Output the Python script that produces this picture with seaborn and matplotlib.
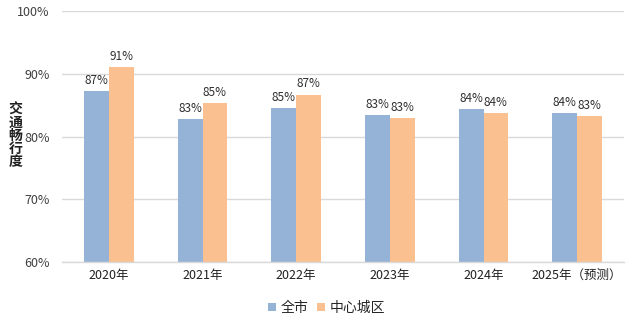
import matplotlib
matplotlib.use("Agg")
import matplotlib.pyplot as plt
import seaborn as sns
import pandas as pd

# Traffic smoothness index by year, city-wide vs. central urban area
years = ["2020年", "2021年", "2022年", "2023年", "2024年", "2025年（预测）"]
citywide = [87.2, 82.8, 84.6, 83.4, 84.4, 83.8]
central = [91.0, 85.4, 86.7, 83.0, 83.8, 83.3]
series_names = ["全市", "中心城区"]
y_ticks = [60, 70, 80, 90, 100]

sns.set_theme(style="white")
plt.rcParams["font.family"] = ["Noto Sans CJK SC", "DejaVu Sans"]

df = pd.DataFrame({
    "year": years * 2,
    "value": citywide + central,
    "series": [series_names[0]] * len(years) + [series_names[1]] * len(years),
})

fig = plt.figure(figsize=(6.4, 3.3), dpi=100)
ax = fig.add_axes([0.097, 0.205, 0.878, 0.762])

palette = {series_names[0]: "#95B3D7", series_names[1]: "#FAC090"}
sns.barplot(data=df, x="year", y="value", hue="series", palette=palette,
            width=0.53, saturation=1, linewidth=0, ax=ax, legend=True)

ax.set_ylim(60, 100)
ax.set_yticks(y_ticks)
ax.set_yticklabels([f"{t}%" for t in y_ticks], fontsize=9, color="#404040")
ax.tick_params(axis="x", labelsize=9, labelcolor="#202020", length=0, pad=5)
ax.tick_params(axis="y", length=0, pad=9)
ax.set_xlabel("")
ax.set_ylabel("")
ax.yaxis.grid(True, color="#D9D9D9", linewidth=1)
ax.set_axisbelow(True)
for side in ["left", "right", "top"]:
    ax.spines[side].set_visible(False)
ax.spines["bottom"].set_color("#D9D9D9")
ax.spines["bottom"].set_linewidth(1)

for container in ax.containers:
    ax.bar_label(container, fmt="{:.0f}%", padding=3, fontsize=8.5, color="#303030")

# Vertical stacked axis title
fig.text(0.024, 0.588, "交\n通\n畅\n行\n度", ha="center", va="center",
         fontsize=10, fontweight="bold", linespacing=0.92, color="#202020")

handles, labels = ax.get_legend_handles_labels()
ax.legend_.remove()
fig.legend(handles, labels, loc="center", bbox_to_anchor=(0.51, 0.067), ncol=2,
           frameon=False, fontsize=10, handlelength=0.6, handleheight=0.6,
           handletextpad=0.3, columnspacing=0.6)

fig.savefig("out.png", dpi=100)
